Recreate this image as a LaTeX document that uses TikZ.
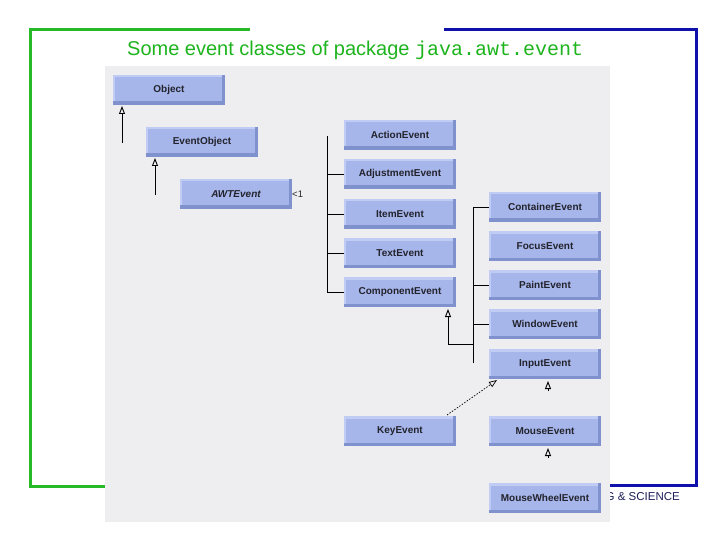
\documentclass[tikz,border=0pt]{standalone}
\usepackage{fontspec}
\setmainfont{Liberation Sans}
\newfontfamily\monofont{Liberation Mono}
\usetikzlibrary{arrows.meta}
\definecolor{framegreen}{RGB}{40,185,40}
\definecolor{frameblue}{RGB}{16,16,170}
\definecolor{titlegreen}{RGB}{30,180,30}
\definecolor{panelgray}{RGB}{238,238,240}
\definecolor{boxfill}{RGB}{166,182,234}
\definecolor{boxdark}{RGB}{128,146,206}
\definecolor{boxlight}{RGB}{192,204,243}
\definecolor{boxtext}{RGB}{35,35,45}
\definecolor{footblue}{RGB}{30,30,90}
\begin{document}
\begin{tikzpicture}[x=1pt,y=-1pt,
  frameline/.style={line width=3pt},
  classbox/.style={minimum width=112pt, minimum height=30pt, inner sep=0pt,
    fill=boxfill, text=boxtext,
    font=\fontsize{10}{12}\selectfont\bfseries,
    path picture={
      \fill[boxlight] ([yshift=-2.5pt]path picture bounding box.north west) rectangle (path picture bounding box.north east);
      \fill[boxlight] (path picture bounding box.south west) rectangle ([xshift=2pt]path picture bounding box.north west);
      \fill[boxdark] (path picture bounding box.south west) rectangle ([yshift=3.5pt]path picture bounding box.south east);
      \fill[boxdark] ([xshift=-3pt]path picture bounding box.south east) rectangle (path picture bounding box.north east);
    }},
  link/.style={line width=0.9pt, black},
  inherit/.style={line width=0.9pt, black, -{Triangle[open,length=8pt,width=6pt]}},
  realize/.style={line width=0.7pt, black, dash pattern=on 1.5pt off 1.5pt, -{Triangle[open,length=8pt,width=6pt]}}
]
\useasboundingbox (0,0) rectangle (720,540);
\fill[white] (0,0) rectangle (720,540);

% frame
\coordinate (g1) at (250,30);
\coordinate (g2) at (30,30);
\coordinate (g3) at (30,486);
\coordinate (g4) at (160,486);
\draw[frameline, framegreen] (g1) -- (g2) -- (g3) -- (g4);
\coordinate (b1) at (444,30);
\coordinate (b2) at (696,30);
\coordinate (b3) at (696,485);
\coordinate (b4) at (590,485);
\draw[frameline, frameblue] (b1) -- (b2) -- (b3) -- (b4);

\node[anchor=east, text=footblue, font=\fontsize{11.5}{13}\selectfont, inner sep=0pt] (foot) at (680,497) {G \& SCIENCE};

% title
\node[anchor=west, text=titlegreen, inner sep=0pt, font=\fontsize{20}{24}\selectfont] (title) at (127,50)
  {Some event classes of package {\monofont\fontsize{20}{24}\selectfont java.awt.event}};

% panel
\fill[panelgray] (105,66) rectangle (610,522);

% classes
\node[classbox] (object) at (169,90) {Object};
\node[classbox] (eventobject) at (202,142) {EventObject};
\node[classbox, font=\fontsize{10}{12}\selectfont\bfseries\itshape] (awtevent) at (236,194) {AWTEvent};
\node[anchor=west, inner sep=0pt, font=\fontsize{9.5}{10}\selectfont, text=boxtext] (awtnote) at (292,194) {<1};

\node[classbox] (action) at (400,135) {ActionEvent};
\node[classbox] (adjustment) at (400,174) {AdjustmentEvent};
\node[classbox] (item) at (400,214) {ItemEvent};
\node[classbox] (textev) at (400,253) {TextEvent};
\node[classbox] (component) at (400,292) {ComponentEvent};

\node[classbox] (container) at (545,207) {ContainerEvent};
\node[classbox] (focus) at (545,246) {FocusEvent};
\node[classbox] (paint) at (545,285) {PaintEvent};
\node[classbox] (window) at (545,324) {WindowEvent};
\node[classbox] (input) at (545,364) {InputEvent};

\node[classbox] (key) at (400,431) {KeyEvent};
\node[classbox] (mouse) at (545,431) {MouseEvent};
\node[classbox] (mousewheel) at (545,498) {MouseWheelEvent};

% inheritance arrows on the left
\coordinate (objtail) at (122,143);
\coordinate (objtip) at (122,106);
\draw[inherit] (objtail) -- (objtip);
\coordinate (eotail) at (155,195);
\coordinate (eotip) at (155,158);
\draw[inherit] (eotail) -- (eotip);

% first tree
\coordinate (t1top) at (327,136);
\draw[link] (t1top) |- (component.west);
\draw[link] (t1top |- adjustment.west) -- (adjustment.west);
\draw[link] (t1top |- item.west) -- (item.west);
\draw[link] (t1top |- textev.west) -- (textev.west);

% second tree
\coordinate (t2bot) at (473,363);
\draw[link] (t2bot) |- (container.west);
\draw[link] (t2bot |- paint.west) -- (paint.west);
\draw[link] (t2bot |- window.west) -- (window.west);
\coordinate (t2join) at (473,344);
\coordinate (comptip) at (448,309);
\draw[inherit] (t2join) -| (comptip);

% input / mouse
\coordinate (keytail) at (447,415);
\coordinate (keytip) at (497,380);
\draw[realize] (keytail) -- (keytip);
\coordinate (intail) at (548,391);
\coordinate (intip) at (548,381);
\draw[inherit] (intail) -- (intip);
\coordinate (mtail) at (548,458);
\coordinate (mtip) at (548,448);
\draw[inherit] (mtail) -- (mtip);
\end{tikzpicture}
\end{document}
